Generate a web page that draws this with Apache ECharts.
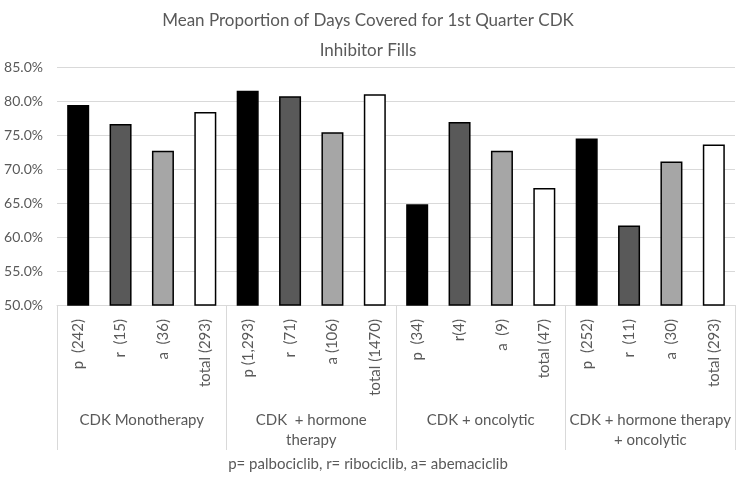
<!DOCTYPE html>
<html>
<head>
<meta charset="utf-8">
<script src="https://cdn.jsdelivr.net/npm/echarts@6/dist/echarts.min.js"></script>
<style>html,body{margin:0;padding:0;background:#fff}#c{width:736px;height:478px}</style>
</head>
<body>
<div id="c"></div>
<script>
const barLabels = ['p  (242)','r  (15)','a  (36)','total (293)',
  'p (1,293)','r  (71)','a (106)','total (1470)',
  'p  (34)','r(4)','a  (9)','total (47)',
  'p  (252)','r  (11)','a  (30)','total (293)'];
const groups = ['CDK Monotherapy','CDK  + hormone\ntherapy','CDK + oncolytic','CDK + hormone therapy\n+ oncolytic'];
const values = [79.4, 76.6, 72.7, 78.4,
  81.5, 80.7, 75.4, 81.0,
  64.8, 76.9, 72.7, 67.2,
  74.5, 61.7, 71.1, 73.6];
const yTicks = [50, 55, 60, 65, 70, 75, 80, 85];
const shades = ['#000000','#595959','#a6a6a6','#ffffff'];

const font = 'Lato, "Open Sans", sans-serif';
const chart = echarts.init(document.getElementById('c'));
chart.setOption({
  animation: false,
  title: {
    text: 'Mean Proportion of Days Covered for 1st Quarter CDK\nInhibitor Fills',
    left: 'center', top: 1,
    textStyle: {fontFamily: font, fontSize: 17, fontWeight: 'normal', color: '#595959', lineHeight: 30}
  },
  graphic: [{
    type: 'text', left: 'center', top: 457,
    style: {text: 'p= palbociclib, r= ribociclib, a= abemaciclib', font: '15px ' + font, fill: '#595959'}
  }],
  grid: {left: 57, right: 1, top: 67, bottom: 173},
  xAxis: [{
    type: 'category', data: barLabels,
    axisLine: {show: true, lineStyle: {color: '#d9d9d9', width: 1}},
    axisTick: {show: false},
    axisLabel: {rotate: 90, margin: 14, interval: 0, fontFamily: font, fontSize: 15, color: '#595959'}
  }, {
    type: 'category', data: groups, position: 'bottom',
    axisLine: {show: false},
    axisTick: {show: true, length: 145, lineStyle: {color: '#d9d9d9', width: 1}},
    axisLabel: {margin: 105, interval: 0, fontFamily: font, fontSize: 15, color: '#595959', lineHeight: 20}
  }],
  yAxis: {
    type: 'value', min: 50, max: 85, interval: 5,
    axisLine: {show: false}, axisTick: {show: false},
    splitLine: {lineStyle: {color: '#d9d9d9', width: 1}},
    axisLabel: {fontFamily: font, fontSize: 14, color: '#595959', margin: 14,
      formatter: v => yTicks.includes(v) ? v.toFixed(1) + '%' : ''}
  },
  series: [{
    type: 'bar', xAxisIndex: 0, barWidth: 22,
    data: values.map((v, i) => ({value: v, itemStyle: {color: shades[i % 4]}})),
    itemStyle: {borderColor: '#000', borderWidth: 1.5}
  }]
});
</script>
</body>
</html>
